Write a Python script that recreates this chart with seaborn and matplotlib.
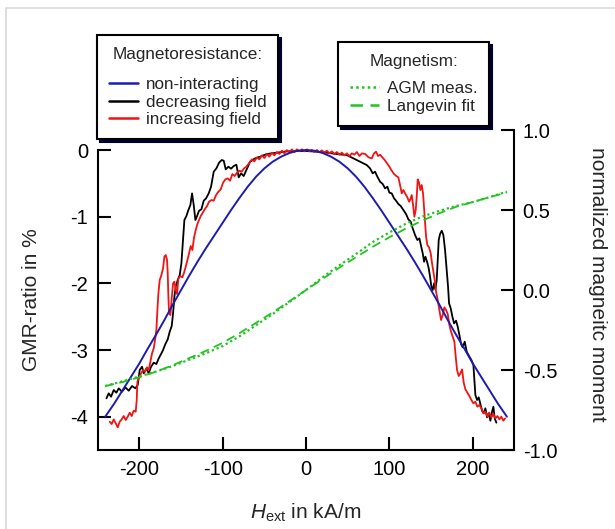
import matplotlib
matplotlib.use("Agg")
import matplotlib.pyplot as plt
from matplotlib.patches import Rectangle
import seaborn as sns

# ── data: H_ext in kA/m, GMR in %, moment normalized ──
# non-interacting model (blue)
blue = [(-241, -4.0), (-230, -3.8), (-220, -3.6), (-210, -3.4), (-200, -3.2), (-190, -2.98),
        (-180, -2.77), (-170, -2.55), (-160, -2.32), (-150, -2.1), (-140, -1.88), (-130, -1.67),
        (-120, -1.47), (-110, -1.28), (-100, -1.09), (-90, -0.9), (-80, -0.72), (-70, -0.55),
        (-60, -0.4), (-50, -0.275), (-40, -0.175), (-30, -0.1), (-20, -0.045), (-10, -0.01),
        (0, 0.0), (10, -0.01), (20, -0.045), (30, -0.1), (40, -0.175), (50, -0.275), (60, -0.4),
        (70, -0.55), (80, -0.72), (90, -0.9), (100, -1.09), (110, -1.28), (120, -1.47),
        (130, -1.67), (140, -1.88), (150, -2.1), (160, -2.32), (170, -2.55), (180, -2.77),
        (190, -2.98), (200, -3.2), (210, -3.4), (220, -3.6), (230, -3.8), (241, -4.0)]

# decreasing field (black)
black = [(-239.6, -3.725), (-236.8, -3.65), (-234, -3.70), (-230.8, -3.6), (-227.6, -3.64),
         (-224.8, -3.575), (-220.8, -3.625), (-216.8, -3.56), (-212.8, -3.61), (-208.8, -3.54),
         (-204.8, -3.575), (-202, -3.525), (-199.6, -3.3), (-196.8, -3.25), (-194.8, -3.35),
         (-191.6, -3.275), (-188.8, -3.35), (-186, -3.25), (-182.8, -3.19), (-179.6, -3.21),
         (-176.8, -3.125), (-174, -3.06), (-171.6, -3.0), (-168.8, -2.91), (-166, -2.84),
         (-163.6, -2.725), (-161.2, -2.64), (-159.6, -2.45), (-158, -2.2), (-156.4, -2.05),
         (-154, -1.95), (-151.6, -1.875), (-149.6, -1.7), (-147.6, -1.35), (-146, -1.05),
         (-143.6, -0.99), (-141.2, -0.9), (-138.8, -0.825), (-136.8, -0.65), (-134.8, -0.825),
         (-132.8, -1.05), (-130.8, -0.99), (-128.4, -0.91), (-125.6, -0.89), (-122.8, -0.76),
         (-120, -0.725), (-116.8, -0.65), (-114, -0.55), (-110.8, -0.325), (-107.6, -0.275),
         (-104.4, -0.19), (-101.2, -0.15), (-98.8, -0.16), (-96.4, -0.29), (-93.2, -0.25),
         (-90, -0.28), (-86.8, -0.24), (-83.6, -0.22), (-80.8, -0.41), (-78, -0.35),
         (-74.8, -0.39), (-71.6, -0.3), (-67.2, -0.175), (-61.2, -0.125), (-55.2, -0.1),
         (-47.2, -0.06), (-35.2, -0.04), (-23.2, -0.02), (-11.2, -0.015), (0.8, -0.015),
         (12.8, -0.025), (24.8, -0.04), (36.8, -0.06), (48.8, -0.075), (56.8, -0.125),
         (64.8, -0.175), (72.8, -0.225), (76.8, -0.275), (80, -0.35), (82.8, -0.325),
         (85.6, -0.4), (88.8, -0.475), (92, -0.51), (94.8, -0.575), (97.6, -0.55),
         (100, -0.64), (102.8, -0.65), (105.6, -0.725), (108, -0.76), (110.8, -0.81),
         (113.6, -0.84), (116.8, -0.9), (120, -0.96), (122.8, -1.04), (125.6, -1.075),
         (128, -1.175), (130.8, -1.275), (133.6, -1.35), (136, -1.325), (138, -1.44),
         (140, -1.55), (141.6, -1.675), (143.2, -1.6), (145.2, -1.675), (147.2, -1.775),
         (148.8, -1.9), (150.4, -2.05), (152, -2.1), (153.6, -2.0), (155.2, -2.09),
         (156.8, -1.95), (158, -1.65), (159.2, -1.35), (160.8, -1.26), (162.8, -1.21),
         (164.8, -1.275), (166.8, -1.5), (168.8, -1.8), (170.4, -2.05), (171.6, -2.3),
         (173.6, -2.375), (175.6, -2.5), (177.6, -2.6), (180, -2.56), (182, -2.65),
         (184, -2.775), (186, -2.91), (188, -2.96), (190.4, -2.875), (192.8, -3.025),
         (195.6, -3.09), (198.4, -3.15), (200.8, -3.225), (202, -3.45), (203.2, -3.675),
         (205.2, -3.75), (207.2, -3.71), (209.2, -3.81), (211.2, -3.91), (213.2, -3.95),
         (215.2, -3.875), (217.2, -4.01), (219.2, -3.95), (221.2, -4.06), (223.2, -3.925),
         (224.8, -3.85), (226.4, -4.025), (228.4, -4.09)]

# increasing field (red)
red = [(-235.6, -4.075), (-233.2, -4.11), (-230.8, -4.04), (-228.4, -4.10), (-226, -4.16),
       (-223.6, -4.075), (-221.2, -4.04), (-218.8, -3.99), (-216.4, -4.05), (-214, -4.0),
       (-211.6, -3.94), (-209.2, -3.99), (-206.8, -3.91), (-204.4, -3.925), (-203.2, -3.75),
       (-202.4, -3.475), (-200.4, -3.41), (-198, -3.35), (-195.6, -3.30), (-193.2, -3.325),
       (-190.8, -3.26), (-188.8, -3.30), (-186.8, -3.175), (-184.8, -3.05), (-182.8, -2.975),
       (-181.2, -2.85), (-179.6, -2.70), (-178.4, -2.40), (-177.2, -2.15), (-175.6, -1.95),
       (-173.6, -1.875), (-171.6, -1.775), (-170, -1.60), (-168.4, -1.575), (-166.8, -1.65),
       (-166, -1.85), (-165.2, -2.20), (-164.4, -2.45), (-162.8, -2.475), (-161.2, -2.225),
       (-159.6, -2.0), (-158, -1.975), (-156.4, -2.10), (-154.8, -2.16), (-153.2, -1.925),
       (-150.8, -1.89), (-148.4, -1.91), (-146.4, -1.84), (-144.4, -1.75), (-142.4, -1.65),
       (-140.4, -1.55), (-138.4, -1.44), (-136.4, -1.50), (-134.4, -1.31), (-132.4, -1.20),
       (-130.4, -1.11), (-128.4, -1.05), (-126.4, -0.99), (-124, -0.94), (-121.6, -0.89),
       (-118.8, -0.84), (-116.4, -0.775), (-113.6, -0.75), (-110.8, -0.76), (-108, -0.675),
       (-105.2, -0.625), (-102.4, -0.59), (-99.6, -0.49), (-96.8, -0.44), (-94, -0.425),
       (-91.2, -0.46), (-88.4, -0.36), (-85.6, -0.39), (-82.8, -0.34), (-80, -0.31),
       (-77.2, -0.325), (-74.4, -0.275), (-71.6, -0.25), (-68, -0.19), (-65, -0.14),
       (-62, -0.17), (-59, -0.11), (-56, -0.14), (-53, -0.08), (-50, -0.12), (-47, -0.06),
       (-44, -0.10), (-41, -0.04), (-38, -0.08), (-35, -0.03), (-32, -0.06), (-29, -0.01),
       (-26, -0.05), (-23, 0.0), (-20, -0.04), (-17, 0.01), (-14, -0.03), (-11, 0.01),
       (-8, -0.02), (-5, 0.01), (-2, -0.02), (1, 0.01), (4, -0.02), (7, 0.0), (10, -0.03),
       (13, 0.0), (16, -0.03), (19, -0.005), (22, -0.04), (25, -0.01), (28, -0.05),
       (31, -0.02), (34, -0.06), (37, -0.03), (40, -0.07), (43, -0.04), (46, -0.08),
       (49, -0.05), (52, -0.09), (55, -0.05), (58, -0.07), (61, -0.03), (64, -0.09),
       (67, -0.05), (71, -0.06), (75, -0.11), (78.8, -0.125), (81.6, -0.05), (84, -0.025),
       (86.4, -0.09), (88.8, -0.07), (91.6, -0.11), (94.4, -0.15), (97.2, -0.2), (100, -0.25),
       (102.8, -0.31), (105.6, -0.36), (108.4, -0.39), (110.8, -0.41), (112.8, -0.525),
       (114.8, -0.65), (116.8, -0.6), (119.2, -0.66), (121.6, -0.71), (123.6, -0.775),
       (125.2, -0.74), (126.8, -0.675), (128.4, -0.825), (130, -1.0), (131.6, -0.9),
       (132.8, -0.7), (134, -0.44), (135.6, -0.49), (137.2, -0.6), (138.8, -0.525),
       (140.4, -0.65), (141.6, -0.875), (142.8, -1.1), (144, -1.3), (145.6, -1.425),
       (147.6, -1.46), (149.6, -1.55), (151.2, -1.7), (152.8, -1.825), (154.4, -1.95),
       (156, -2.125), (158, -2.25), (160, -2.4), (162, -2.55), (164, -2.475), (166, -2.36),
       (168, -2.4), (170, -2.46), (172, -2.625), (174, -2.725), (176, -2.8), (178, -2.875),
       (179.6, -3.1), (181.2, -3.3), (183.2, -3.39), (185.2, -3.35), (187.2, -3.29),
       (189.2, -3.49), (191.2, -3.59), (193.6, -3.64), (196, -3.69), (198.4, -3.75),
       (200.8, -3.8), (203.2, -3.775), (205.6, -3.85), (208, -3.825), (210.4, -3.875),
       (212.8, -3.95), (215.2, -3.925), (217.6, -4.0), (220, -3.94), (222.4, -4.01),
       (224.8, -3.96), (227.2, -4.025), (229.6, -3.99), (232, -4.04), (234.4, -4.0),
       (236.8, -4.06), (238.8, -4.025)]

# magnetisation (right axis)
agm = [(-241, -0.60), (-220, -0.57), (-200, -0.54), (-180, -0.51), (-160, -0.475),
       (-140, -0.435), (-120, -0.395), (-100, -0.35), (-80, -0.29), (-60, -0.22),
       (-40, -0.15), (-20, -0.075), (0, 0.0), (20, 0.08), (40, 0.155), (60, 0.225),
       (80, 0.30), (100, 0.36), (120, 0.415), (140, 0.46), (160, 0.495), (180, 0.525),
       (200, 0.55), (220, 0.58), (241, 0.615)]
fit = [(-241, -0.60), (-220, -0.575), (-200, -0.545), (-180, -0.51), (-160, -0.47),
       (-140, -0.425), (-120, -0.38), (-100, -0.33), (-80, -0.27), (-60, -0.205),
       (-40, -0.14), (-20, -0.07), (0, 0.0), (20, 0.07), (40, 0.14), (60, 0.205),
       (80, 0.27), (100, 0.33), (120, 0.385), (140, 0.435), (160, 0.48), (180, 0.52),
       (200, 0.55), (220, 0.58), (241, 0.61)]

mr_labels = ["non-interacting", "decreasing field", "increasing field"]
mag_labels = ["AGM meas.", "Langevin fit"]
x_ticks = [-200, -100, 0, 100, 200]
gmr_ticks = [0, -1, -2, -3, -4]
mom_ticks = [-1.0, -0.5, 0.0, 0.5, 1.0]

C_BLUE, C_BLACK, C_RED, C_GREEN = "#1c1cb0", "black", "#f01414", "#22c422"

sns.set_theme(style="ticks")
plt.rcParams["font.family"] = ["Liberation Sans", "DejaVu Sans"]
plt.rcParams["axes.unicode_minus"] = False
plt.rcParams["mathtext.fontset"] = "custom"
plt.rcParams["mathtext.rm"] = "Liberation Sans"
plt.rcParams["mathtext.it"] = "Liberation Sans:italic"

fig = plt.figure(figsize=(6.15, 5.29), dpi=100)
fig.add_artist(Rectangle((6/615, -0.05), 1.2, (529-8)/529 + 0.05, transform=fig.transFigure,
                         fill=False, ec="#d9d9d9", lw=1.2))
ax = fig.add_axes([0.1589, 0.1493, 0.6775, 0.6049])
ax2 = ax.twinx()

def xy(pts):
    return [p[0] for p in pts], [p[1] for p in pts]

bx, by = xy(black); rx, ry = xy(red); ux, uy = xy(blue)
sns.lineplot(x=bx, y=by, sort=False, estimator=None, color=C_BLACK, lw=1.3, ax=ax)
sns.lineplot(x=rx, y=ry, sort=False, estimator=None, color=C_RED, lw=1.3, ax=ax)
sns.lineplot(x=ux, y=uy, sort=False, estimator=None, color=C_BLUE, lw=1.4, ax=ax)
l_black, l_red, l_blue = ax.lines[0], ax.lines[1], ax.lines[2]

gx, gy = xy(agm); fx, fy = xy(fit)
sns.lineplot(x=gx, y=gy, sort=False, estimator=None, color=C_GREEN, lw=1.6,
             linestyle=(0, (1, 1.3)), ax=ax2)
sns.lineplot(x=fx, y=fy, sort=False, estimator=None, color=C_GREEN, lw=1.3,
             linestyle=(0, (5, 3)), ax=ax2)
l_agm, l_fit = ax2.lines[0], ax2.lines[1]

ax.set_xlim(-250, 250); ax.set_ylim(-4.5, 0.3); ax2.set_ylim(-1, 1)
ax.set_xticks(x_ticks); ax.set_yticks(gmr_ticks); ax2.set_yticks(mom_ticks)
ax.set_yticklabels([str(t) for t in gmr_ticks])
ax2.set_yticklabels([f"{t:.1f}" for t in mom_ticks])

for s in ["top", "right"]:
    ax.spines[s].set_visible(False)
for s in ["top", "left", "bottom"]:
    ax2.spines[s].set_visible(False)
ax.spines["left"].set_bounds(-4.5, 0)
for sp in [ax.spines["left"], ax.spines["bottom"], ax2.spines["right"]]:
    sp.set_linewidth(1.5); sp.set_color("black")

ax.tick_params(axis="both", direction="in", length=9.5, width=1.5, labelsize=14.5,
               color="black", labelcolor="black", pad=7)
ax.tick_params(axis="y", right=False)
ax2.tick_params(axis="y", direction="in", length=9.5, width=1.5, labelsize=14.5,
                color="black", labelcolor="black", pad=6)

ax.set_xlabel(r"$H_{\mathrm{ext}}$ in kA/m", fontsize=15)
ax.xaxis.set_label_coords(0.5, -0.16)
ax.set_ylabel("GMR-ratio in %", fontsize=15, va="center")
ax.yaxis.set_label_coords(-0.158, 0.469)
ax2.set_ylabel("normalized magneitc moment", fontsize=15, rotation=-90, va="center")
ax2.yaxis.set_label_coords(1.2006, 0.517)

common = dict(loc="upper left", fontsize=12.3, title_fontsize=12.3, frameon=True,
              fancybox=False, shadow={"color": "#000030", "alpha": 1}, edgecolor="black",
              framealpha=1, borderpad=0.7, labelspacing=0.15, handlelength=1.7,
              handletextpad=0.45, borderaxespad=0, bbox_transform=fig.transFigure)
leg1 = fig.legend([l_blue, l_black, l_red], mr_labels, title="Magnetoresistance:",
                  bbox_to_anchor=(97/615, 1 - 35/529), **common)
leg2 = fig.legend([l_agm, l_fit], mag_labels, title="Magnetism:",
                  bbox_to_anchor=(338/615, 1 - 42/529), **common)
leg1._legend_box.sep = 11
leg2._legend_box.sep = 9
for lg in (leg1, leg2):
    lg.get_frame().set_linewidth(1.5)
    for ln in lg.get_lines():
        ln.set_linewidth(1.8)

fig.savefig("out.png", dpi=100, facecolor="white")
